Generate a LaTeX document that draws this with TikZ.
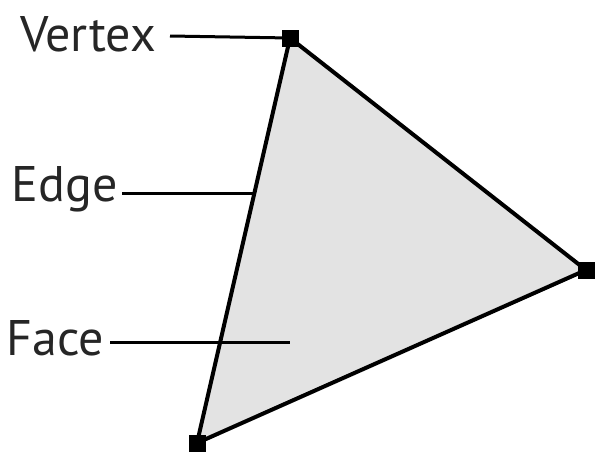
\documentclass[tikz,border=0pt]{standalone}
\usepackage{fontspec}
\setmainfont{PT Sans}
\begin{document}
\begin{tikzpicture}[x=1pt,y=-1pt,
  vtx/.style={fill=black,minimum size=17pt,inner sep=0pt},
  lbl/.style={font=\fontsize{50}{50}\selectfont,text=black!85,inner sep=0pt,anchor=east},
  lead/.style={line width=3pt},
  side/.style={line width=4pt}]
\useasboundingbox (0,0) rectangle (596,461);
\coordinate (A) at (290,38);
\coordinate (B) at (586,270);
\coordinate (C) at (197,443);
\fill[black!11] (A) -- (B) -- (C) -- cycle;
\draw[side,line join=round] (A) -- (B) -- (C) -- cycle;
\node[vtx] (vA) at (A) {};
\node[vtx] (vB) at (B) {};
\node[vtx] (vC) at (C) {};
\node[lbl] (tV) at (156,34) {Vertex};
\node[lbl] (tE) at (118,189) {Edge};
\node[lbl] (tF) at (104,338) {Face};
\coordinate (eE) at (254,193);
\coordinate (eF) at (290,342);
\draw[lead] (170,36) coordinate (sV) -- (vA.center);
\draw[lead] (122,193) coordinate (sE) -- (eE);
\draw[lead] (110,342) coordinate (sF) -- (eF);
\end{tikzpicture}
\end{document}
